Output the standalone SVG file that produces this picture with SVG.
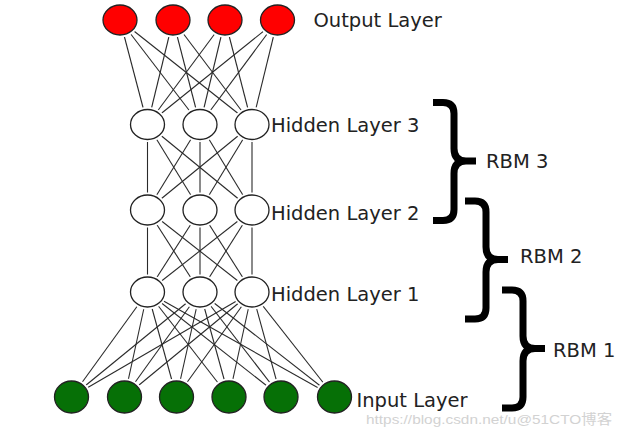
<svg xmlns="http://www.w3.org/2000/svg" xmlns:xlink="http://www.w3.org/1999/xlink" width="623" height="433" viewBox="0 0 623 433">
<style>
.ln{stroke:#2a2a2a;stroke-width:1.1}
.halo{fill:none;stroke:#fff;stroke-width:5}
.nd{stroke:#222;stroke-width:1.3}
.out{fill:#f00}
.hid{fill:#fff}
.inp{fill:#067006}
.lbl{font-family:"DejaVu Sans",Verdana,sans-serif;font-size:19.5px;fill:#222}
.brace{fill:none;stroke:#000;stroke-width:7}
.wm{font-family:"Liberation Sans","Noto Sans CJK SC",sans-serif;font-size:13.5px;fill:#d2d2d2}
</style>
<defs>
<path id="br" d="M 0 0 H 10 Q 21 0 21 11 V 46 Q 21 58.5 33 58.5 H 43 M 43 58.5 H 33 Q 21 58.5 21 71 V 107 Q 21 118 10 118 H 0"/>
</defs>
<rect width="623" height="433" fill="#fff"/>
<g id="connectors" class="ln">
<line x1="120" y1="20" x2="147.5" y2="124.5"/><line x1="120" y1="20" x2="200" y2="124.5"/><line x1="120" y1="20" x2="252" y2="124.5"/>
<line x1="173" y1="20" x2="147.5" y2="124.5"/><line x1="173" y1="20" x2="200" y2="124.5"/><line x1="173" y1="20" x2="252" y2="124.5"/>
<line x1="225" y1="20" x2="147.5" y2="124.5"/><line x1="225" y1="20" x2="200" y2="124.5"/><line x1="225" y1="20" x2="252" y2="124.5"/>
<line x1="277.5" y1="20" x2="147.5" y2="124.5"/><line x1="277.5" y1="20" x2="200" y2="124.5"/><line x1="277.5" y1="20" x2="252" y2="124.5"/>
<line x1="147.5" y1="124.5" x2="147.5" y2="210"/><line x1="147.5" y1="124.5" x2="200" y2="210"/><line x1="147.5" y1="124.5" x2="252" y2="210"/>
<line x1="200" y1="124.5" x2="147.5" y2="210"/><line x1="200" y1="124.5" x2="200" y2="210"/><line x1="200" y1="124.5" x2="252" y2="210"/>
<line x1="252" y1="124.5" x2="147.5" y2="210"/><line x1="252" y1="124.5" x2="200" y2="210"/><line x1="252" y1="124.5" x2="252" y2="210"/>
<line x1="147.5" y1="210" x2="147.5" y2="292"/><line x1="147.5" y1="210" x2="200" y2="292"/><line x1="147.5" y1="210" x2="252" y2="292"/>
<line x1="200" y1="210" x2="147.5" y2="292"/><line x1="200" y1="210" x2="200" y2="292"/><line x1="200" y1="210" x2="252" y2="292"/>
<line x1="252" y1="210" x2="147.5" y2="292"/><line x1="252" y1="210" x2="200" y2="292"/><line x1="252" y1="210" x2="252" y2="292"/>
<line x1="147.5" y1="292" x2="71.5" y2="397"/><line x1="147.5" y1="292" x2="124.5" y2="397"/><line x1="147.5" y1="292" x2="176.5" y2="397"/><line x1="147.5" y1="292" x2="229" y2="397"/><line x1="147.5" y1="292" x2="281" y2="397"/><line x1="147.5" y1="292" x2="334.5" y2="397"/>
<line x1="200" y1="292" x2="71.5" y2="397"/><line x1="200" y1="292" x2="124.5" y2="397"/><line x1="200" y1="292" x2="176.5" y2="397"/><line x1="200" y1="292" x2="229" y2="397"/><line x1="200" y1="292" x2="281" y2="397"/><line x1="200" y1="292" x2="334.5" y2="397"/>
<line x1="252" y1="292" x2="71.5" y2="397"/><line x1="252" y1="292" x2="124.5" y2="397"/><line x1="252" y1="292" x2="176.5" y2="397"/><line x1="252" y1="292" x2="229" y2="397"/><line x1="252" y1="292" x2="281" y2="397"/><line x1="252" y1="292" x2="334.5" y2="397"/>
</g>
<g id="output-layer">
<g id="out1"><ellipse class="halo" cx="120" cy="20" rx="17" ry="15"/><ellipse class="nd out" cx="120" cy="20" rx="17" ry="15"/></g>
<g id="out2"><ellipse class="halo" cx="173" cy="20" rx="17" ry="15"/><ellipse class="nd out" cx="173" cy="20" rx="17" ry="15"/></g>
<g id="out3"><ellipse class="halo" cx="225" cy="20" rx="17" ry="15"/><ellipse class="nd out" cx="225" cy="20" rx="17" ry="15"/></g>
<g id="out4"><ellipse class="halo" cx="277.5" cy="20" rx="17" ry="15"/><ellipse class="nd out" cx="277.5" cy="20" rx="17" ry="15"/></g>
<text class="lbl" x="313.5" y="27">Output Layer</text>
</g>
<g id="hidden-layer-3">
<g id="h3a"><ellipse class="halo" cx="147.5" cy="124.5" rx="17" ry="15"/><ellipse class="nd hid" cx="147.5" cy="124.5" rx="17" ry="15"/></g>
<g id="h3b"><ellipse class="halo" cx="200" cy="124.5" rx="17" ry="15"/><ellipse class="nd hid" cx="200" cy="124.5" rx="17" ry="15"/></g>
<g id="h3c"><ellipse class="halo" cx="252" cy="124.5" rx="17" ry="15"/><ellipse class="nd hid" cx="252" cy="124.5" rx="17" ry="15"/></g>
<text class="lbl" x="271" y="131.5">Hidden Layer 3</text>
</g>
<g id="hidden-layer-2">
<g id="h2a"><ellipse class="halo" cx="147.5" cy="210" rx="17" ry="15"/><ellipse class="nd hid" cx="147.5" cy="210" rx="17" ry="15"/></g>
<g id="h2b"><ellipse class="halo" cx="200" cy="210" rx="17" ry="15"/><ellipse class="nd hid" cx="200" cy="210" rx="17" ry="15"/></g>
<g id="h2c"><ellipse class="halo" cx="252" cy="210" rx="17" ry="15"/><ellipse class="nd hid" cx="252" cy="210" rx="17" ry="15"/></g>
<text class="lbl" x="271" y="220">Hidden Layer 2</text>
</g>
<g id="hidden-layer-1">
<g id="h1a"><ellipse class="halo" cx="147.5" cy="292" rx="17" ry="15"/><ellipse class="nd hid" cx="147.5" cy="292" rx="17" ry="15"/></g>
<g id="h1b"><ellipse class="halo" cx="200" cy="292" rx="17" ry="15"/><ellipse class="nd hid" cx="200" cy="292" rx="17" ry="15"/></g>
<g id="h1c"><ellipse class="halo" cx="252" cy="292" rx="17" ry="15"/><ellipse class="nd hid" cx="252" cy="292" rx="17" ry="15"/></g>
<text class="lbl" x="271" y="301">Hidden Layer 1</text>
</g>
<g id="input-layer">
<g id="in1"><ellipse class="halo" cx="71.5" cy="397" rx="17" ry="16"/><ellipse class="nd inp" cx="71.5" cy="397" rx="17" ry="16"/></g>
<g id="in2"><ellipse class="halo" cx="124.5" cy="397" rx="17" ry="16"/><ellipse class="nd inp" cx="124.5" cy="397" rx="17" ry="16"/></g>
<g id="in3"><ellipse class="halo" cx="176.5" cy="397" rx="17" ry="16"/><ellipse class="nd inp" cx="176.5" cy="397" rx="17" ry="16"/></g>
<g id="in4"><ellipse class="halo" cx="229" cy="397" rx="17" ry="16"/><ellipse class="nd inp" cx="229" cy="397" rx="17" ry="16"/></g>
<g id="in5"><ellipse class="halo" cx="281" cy="397" rx="17" ry="16"/><ellipse class="nd inp" cx="281" cy="397" rx="17" ry="16"/></g>
<g id="in6"><ellipse class="halo" cx="334.5" cy="397" rx="17" ry="16"/><ellipse class="nd inp" cx="334.5" cy="397" rx="17" ry="16"/></g>
<text class="lbl" x="356.5" y="407">Input Layer</text>
</g>
<g id="rbm3"><use xlink:href="#br" class="brace" transform="translate(433,102.5)"/><text class="lbl" x="486" y="168">RBM 3</text></g>
<g id="rbm2"><use xlink:href="#br" class="brace" transform="translate(465,201)"/><text class="lbl" x="520" y="263">RBM 2</text></g>
<g id="rbm1"><use xlink:href="#br" class="brace" transform="translate(502,290)"/><text class="lbl" x="553" y="357">RBM 1</text></g>
<text class="wm" x="366" y="424" textLength="246" lengthAdjust="spacingAndGlyphs">https://blog.csdn.net/u@51CTO博客</text>
</svg>
